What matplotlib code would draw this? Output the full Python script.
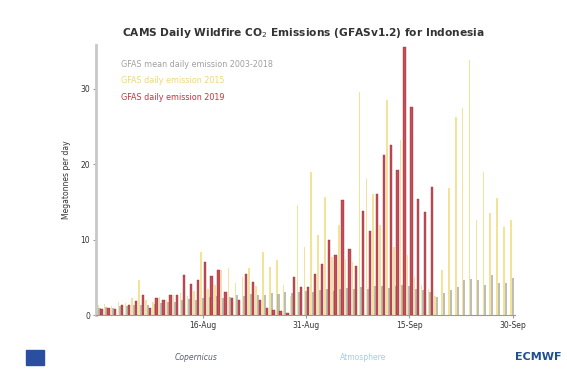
import numpy as np
import pandas as pd
import matplotlib
matplotlib.use("Agg")
import matplotlib.pyplot as plt
import matplotlib.dates as mdates
from matplotlib.patches import Rectangle

# === DATOS (Mt/día) ===
dates = pd.date_range("2019-08-01", "2019-09-30", freq="D")

mean_2003_2018 = [1.0, 1.1, 1.0, 1.2, 1.2, 1.3, 1.4, 1.3, 1.5, 1.6,
                  1.7, 1.8, 2.0, 2.1, 2.0, 2.3, 2.4, 2.5, 2.3, 2.4,
                  2.6, 2.5, 2.8, 2.6, 2.7, 2.9, 2.8, 3.0, 2.9, 3.1,
                  3.2, 3.0, 3.3, 3.4, 3.2, 3.5, 3.6, 3.4, 3.7, 3.5,
                  3.8, 3.9, 3.6, 3.8, 4.0, 3.9, 3.5, 3.3, 3.0,
                  2.4, 2.9, 3.3, 3.75, 4.7, 4.85, 4.6, 4.0, 5.3, 4.2, 4.3, 4.9]

emis_2015 = [1.3, 1.5, 1.2, 1.8, 1.6, 2.2, 4.6, 2.0, 1.7, 2.4,
             2.0, 2.6, 2.9, 2.5, 3.2, 8.4, 3.5, 4.0, 6.0, 6.2,
             4.2, 5.0, 6.2, 3.8, 8.4, 6.4, 7.3, 4.0, 2.5, 14.6,
             9.0, 19.0, 10.6, 15.7, 7.7, 12.0, 7.5, 7.0, 29.6, 18.1,
             16.1, 12.0, 28.5, 9.0, 23.2, 8.0, 5.0, 4.0, 3.5,
             2.5, 6.0, 16.8, 26.3, 27.4, 33.8, 12.6, 19.0, 13.5, 15.5, 11.7, 12.6]

emis_2019 = [0.8, 1.0, 0.8, 1.3, 1.3, 1.9, 2.6, 1.0, 2.3, 2.0,
             2.7, 2.6, 5.3, 4.1, 4.6, 7.1, 5.2, 6.0, 3.0, 2.2,
             2.0, 5.4, 4.4, 2.0, 1.0, 0.7, 0.5, 0.3, 5.0, 3.75,
             3.75, 5.4, 6.8, 9.9, 8.0, 15.2, 8.7, 6.5, 13.8, 11.2,
             16.1, 21.2, 22.6, 19.2, 35.5, 27.6, 15.4, 13.7, 17.0]

labels = ["GFAS mean daily emission 2003-2018",
          "GFAS daily emission 2015",
          "GFAS daily emission 2019"]
tick_dates = pd.to_datetime(["2019-08-16", "2019-08-31", "2019-09-15", "2019-09-30"])

C_GREY = "#a9a9a0"
C_YELL = "#f2df86"
C_RED = "#c23a44"

fig = plt.figure(figsize=(5.67, 3.76), dpi=100)
ax = fig.add_axes([0.169, 0.162, 0.739, 0.718])

x = mdates.date2num(dates)
ax.bar(x - 0.27, emis_2015, width=0.22, color=C_YELL, alpha=0.85, zorder=2)
ax.bar(x - 0.02, mean_2003_2018, width=0.3, color=C_GREY, alpha=0.75, zorder=3)
ax.bar(x[:len(emis_2019)] + 0.27, emis_2019, width=0.34, color=C_RED,
       edgecolor="#8a2c34", linewidth=0.3, alpha=0.9, zorder=4)

ax.set_xlim(mdates.date2num(dates[0]) - 0.55, mdates.date2num(dates[-1]) + 0.3)
ax.set_ylim(0, 35.8)
ax.set_yticks([0, 10, 20, 30])
ax.set_xticks(mdates.date2num(tick_dates))
ax.xaxis.set_major_formatter(mdates.DateFormatter("%d-%b"))
ax.tick_params(axis="both", labelsize=5.5, length=2, color="#999999",
               labelcolor="#333333", pad=2)

for s in ["top", "right"]:
    ax.spines[s].set_visible(False)
ax.spines["left"].set_color("#c8c8c8")
ax.spines["left"].set_linewidth(2)
ax.spines["bottom"].set_color("#999999")
ax.spines["bottom"].set_linewidth(0.8)

ax.set_ylabel("Megatonnes per day", fontsize=5.5, color="#333333", labelpad=7)

fig.text(0.535, 0.912, "CAMS Daily Wildfire CO$_2$ Emissions (GFASv1.2) for Indonesia",
         ha="center", va="center", fontsize=7.7, fontweight="bold", color="#333333")

# leyenda como texto coloreado
for i, (lab, col) in enumerate(zip(labels, ["#a0a0a0", "#ecd877", "#d0303a"])):
    ax.text(0.06, 0.93 - i * 0.062, lab, transform=ax.transAxes, fontsize=5.8,
            color=col, va="center", ha="left")

# pie con logos (aproximados)
fig.add_artist(Rectangle((0.045, 0.03), 0.032, 0.04, transform=fig.transFigure,
                         color="#2a4fa0"))
fig.text(0.345, 0.05, "Copernicus", fontsize=5.5, color="#556070",
         ha="center", va="center", style="italic")
fig.text(0.64, 0.05, "Atmosphere", fontsize=5.5, color="#9ad0e8",
         ha="center", va="center")
fig.text(0.95, 0.05, "ECMWF", fontsize=8, color="#1d4f91",
         ha="center", va="center", fontweight="bold")

fig.savefig("out.png", dpi=100)
